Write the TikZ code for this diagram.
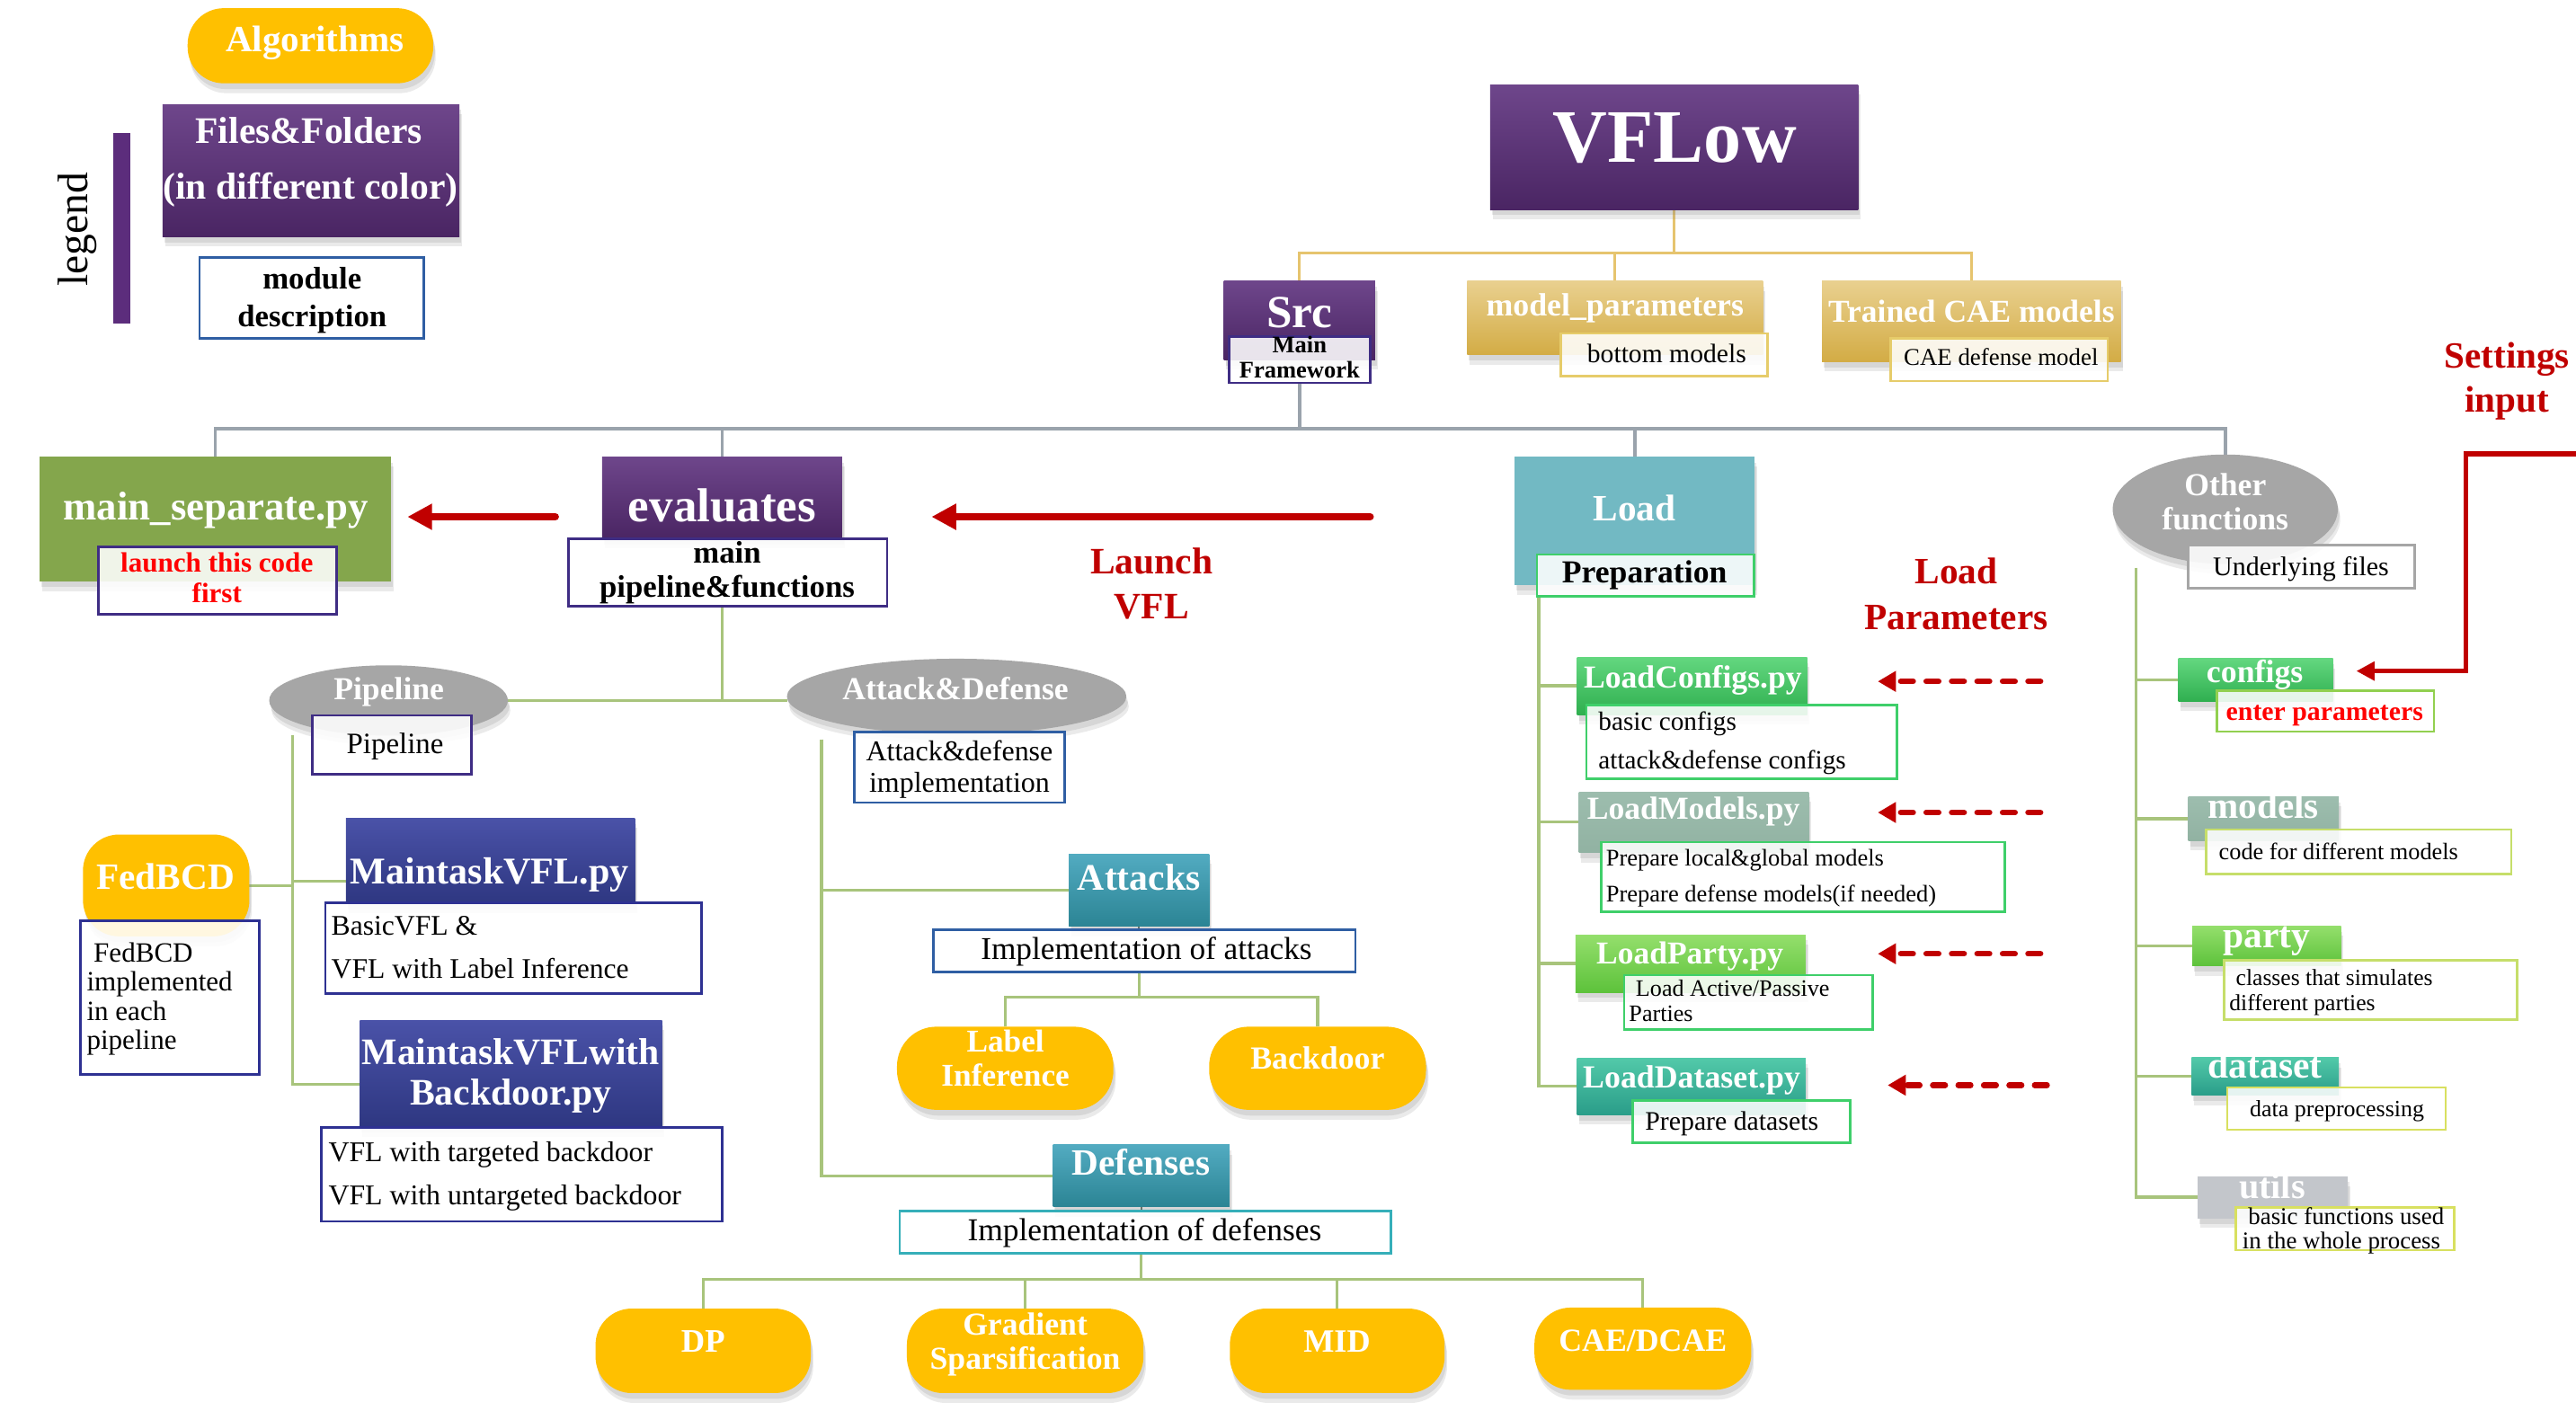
\documentclass[tikz,border=0pt]{standalone}
\usepackage{fontspec}
\setmainfont{Liberation Serif}
\usetikzlibrary{arrows.meta,shapes.geometric,shadows}

\definecolor{purpTop}{HTML}{6E468B}
\definecolor{purpBot}{HTML}{4A2563}
\definecolor{navyTop}{HTML}{4A52A8}
\definecolor{navyBot}{HTML}{2E3781}
\definecolor{tealTop}{HTML}{52ABC1}
\definecolor{tealBot}{HTML}{2B8494}
\definecolor{grnTop}{HTML}{63D77F}
\definecolor{grnBot}{HTML}{2FAF4F}
\definecolor{limeTop}{HTML}{94DF6C}
\definecolor{limeBot}{HTML}{5DC23B}
\definecolor{tgTop}{HTML}{52C9A9}
\definecolor{tgBot}{HTML}{2A9D89}
\definecolor{sageTop}{HTML}{9DBDAE}
\definecolor{sageBot}{HTML}{91B2A2}
\definecolor{tanTop}{HTML}{E9D08F}
\definecolor{tanBot}{HTML}{D3AC45}
\definecolor{sepgreen}{HTML}{84A64C}
\definecolor{loadcyan}{HTML}{72B9C3}
\definecolor{utilgray}{HTML}{C3C6CB}
\definecolor{algoyellow}{HTML}{FFC000}
\definecolor{ellgray}{HTML}{A6A6A6}
\definecolor{legbarcol}{HTML}{5C2D7C}
\definecolor{vfldark}{HTML}{C00000}
\definecolor{vflbright}{HTML}{FF0000}
\definecolor{purpB}{HTML}{3F2D84}
\definecolor{blueB}{HTML}{2F5EA3}
\definecolor{navyB}{HTML}{2E3192}
\definecolor{tealB}{HTML}{36AFB9}
\definecolor{greenB}{HTML}{3FCF6A}
\definecolor{limeB}{HTML}{92D050}
\definecolor{ygB}{HTML}{C6DE6A}
\definecolor{yB}{HTML}{D8E060}
\definecolor{grayB}{HTML}{A6A6A6}
\definecolor{tanB}{HTML}{E6CC6A}
\definecolor{tanLine}{HTML}{E6C46E}
\definecolor{grayLine}{HTML}{9AA3AC}
\definecolor{greenLine}{HTML}{A8C47C}
\definecolor{stubLine}{HTML}{5F6F5F}

\newcommand{\fsz}[1]{\fontsize{#1}{#1}\selectfont}

\pgfdeclarelayer{bg}
\pgfsetlayers{bg,main}

\tikzset{
  every node/.style={inner sep=0pt, outer sep=0pt},
  softshadow/.style={
      drop shadow={opacity=0.16, shadow xshift=1.5pt, shadow yshift=-6pt},
      drop shadow={opacity=0.18, shadow xshift=1pt, shadow yshift=-3.5pt}},
  filebox/.style={rectangle, anchor=north west, softshadow},
  grad/.style 2 args={top color=#1, bottom color=#2},
  pillbox/.style={rectangle, anchor=north west, rounded corners=#1,
      fill=algoyellow, softshadow},
  ellbox/.style={ellipse, fill=ellgray, softshadow},
  descbox/.style={rectangle, anchor=north west, fill=white, fill opacity=0.88,
      line width=1.5pt, draw=#1},
  wlab/.style={anchor=base, text=white, font=\bfseries\fsz{#1}},
  blab/.style={anchor=base, text=black, font=\bfseries\fsz{#1}},
  rlab/.style={anchor=base, text=black, font=\fsz{#1}},
  rlabw/.style={anchor=base west, text=black, font=\fsz{#1}},
  redlab/.style={anchor=base, text=vfldark, font=\bfseries\fsz{#1}},
  tanline/.style={draw=tanLine, line width=1.8pt},
  grayline/.style={draw=grayLine, line width=2pt},
  greenline/.style={draw=greenLine, line width=1.8pt},
  stubline/.style={draw=stubLine, line width=1.2pt},
  launcharrow/.style={draw=vfldark, line width=4.5pt, line cap=round,
      -{Triangle[length=15pt,width=15pt]}},
  dasharrow/.style={draw=vfldark, line width=3.5pt, line cap=round,
      dash pattern=on 7.5pt off 8pt, -{Triangle[length=11pt,width=12pt]}},
  setarrow/.style={draw=vfldark, line width=3pt,
      -{Triangle[length=11pt,width=11pt]}},
}

\begin{document}
\begin{tikzpicture}[x=1pt,y=-1pt]
\useasboundingbox (0,0) rectangle (1568,864);
\begin{pgfonlayer}{bg}
  \fill[white] (0,0) rectangle (1568,864);
\end{pgfonlayer}

% ---------------- legend ----------------
\node[pillbox=22, minimum width=149.5, minimum height=45.7] (algo) at (114.2,5) {};
\node[filebox, grad={purpTop}{purpBot}, minimum width=180.6, minimum height=80.5] (files) at (99,63.5) {};
\node[descbox=blueB, minimum width=136.6, minimum height=49] (moddesc) at (121.4,156.8) {};
\node[rectangle, anchor=north west, fill=legbarcol, minimum width=10.4, minimum height=116] (legbar) at (69,81) {};

% ---------------- top level ----------------
\node[filebox, grad={purpTop}{purpBot}, minimum width=224, minimum height=76] (vflow) at (907,51.5) {};
\node[filebox, grad={purpTop}{purpBot}, minimum width=92, minimum height=48] (src) at (745,171) {};
\node[filebox, grad={tanTop}{tanBot}, minimum width=180, minimum height=45] (mparam) at (893,171) {};
\node[filebox, grad={tanTop}{tanBot}, minimum width=182, minimum height=49] (trained) at (1109,171) {};

% ---------------- second level ----------------
\node[filebox, fill=sepgreen, minimum width=214, minimum height=76] (mainsep) at (24,278) {};
\node[filebox, grad={purpTop}{purpBot}, minimum width=146, minimum height=50] (evaluates) at (366.5,278) {};
\node[filebox, fill=loadcyan, minimum width=146, minimum height=78] (load) at (922,278) {};
\node[ellbox, minimum width=137, minimum height=66.6] (otherf) at (1354.5,310) {};

% ---------------- pipeline branch ----------------
\node[ellbox, minimum width=145.3, minimum height=42.8] (pipeline) at (236.5,426.4) {};
\node[pillbox=22, minimum width=101.3, minimum height=62] (fedbcd) at (50.5,508) {};
\node[filebox, grad={navyTop}{navyBot}, minimum width=175.8, minimum height=52] (mvfl) at (210.6,498) {};
\node[filebox, grad={navyTop}{navyBot}, minimum width=184, minimum height=65] (mtb) at (219,621) {};

% ---------------- attack & defense branch ----------------
\node[ellbox, minimum width=206.6, minimum height=46] (adef) at (582.3,424) {};
\node[filebox, grad={tealTop}{tealBot}, minimum width=85.4, minimum height=44.2] (attacks) at (650.6,519.8) {};
\node[pillbox=24, minimum width=131.7, minimum height=50.6] (labelinf) at (546,625) {};
\node[pillbox=24, minimum width=132, minimum height=50.6] (backdoor) at (736,625) {};
\node[filebox, grad={tealTop}{tealBot}, minimum width=107.4, minimum height=37.6] (defenses) at (641,697) {};
\node[pillbox=22, minimum width=131, minimum height=51.4] (dp) at (362.5,796.6) {};
\node[pillbox=22, minimum width=144, minimum height=51.4] (gs) at (552,796.6) {};
\node[pillbox=22, minimum width=130.7, minimum height=51.4] (mid) at (748.6,796.6) {};
\node[pillbox=22, minimum width=132, minimum height=50] (cae) at (934,796) {};

% ---------------- load branch ----------------
\node[filebox, grad={grnTop}{grnBot}, minimum width=140, minimum height=35] (loadcfg) at (960,400) {};
\node[filebox, grad={sageTop}{sageBot}, minimum width=140, minimum height=37] (loadmod) at (961,482) {};
\node[filebox, grad={limeTop}{limeBot}, minimum width=140, minimum height=35] (loadparty) at (959,569) {};
\node[filebox, grad={tgTop}{tgBot}, minimum width=139, minimum height=34.5] (loadds) at (960,644) {};

% ---------------- other functions branch ----------------
\node[filebox, grad={grnTop}{grnBot}, minimum width=94, minimum height=26] (cfgF) at (1326,401) {};
\node[filebox, grad={sageTop}{sageBot}, minimum width=91.6, minimum height=26.8] (modF) at (1332,485) {};
\node[filebox, grad={limeTop}{limeBot}, minimum width=90.6, minimum height=24.4] (partyF) at (1334.4,563.6) {};
\node[filebox, grad={tgTop}{tgBot}, minimum width=89.6, minimum height=23] (dataF) at (1334,643.8) {};
\node[filebox, fill=utilgray, minimum width=91.4, minimum height=25.6] (utilF) at (1337.6,716) {};

% ---------------- description boxes ----------------
\node[descbox=purpB, minimum width=86, minimum height=28] (mainfw) at (748,205) {};
\node[descbox=tanB, minimum width=126, minimum height=26] (botm) at (950,203) {};
\node[descbox=tanB, minimum width=132, minimum height=26] (caedm) at (1151,206) {};
\node[descbox=purpB, minimum width=145, minimum height=41] (launchdesc) at (60,333) {};
\node[descbox=purpB, minimum width=194, minimum height=41] (evdesc) at (346,328) {};
\node[descbox=greenB, minimum width=132, minimum height=25.5] (prep) at (935.5,337.5) {};
\node[descbox=grayB, minimum width=137.6, minimum height=26] (underl) at (1332,332) {};
\node[descbox=purpB, minimum width=97, minimum height=36] (pipedesc) at (190,435.5) {};
\node[descbox=blueB, minimum width=128, minimum height=43] (adesc) at (520,445.5) {};
\node[descbox=navyB, minimum width=108.8, minimum height=93.5] (fedesc) at (49,560.5) {};
\node[descbox=navyB, minimum width=229, minimum height=55.5] (mvfldesc) at (198,549.5) {};
\node[descbox=navyB, minimum width=243.8, minimum height=57] (mtbdesc) at (195.7,686.5) {};
\node[descbox=blueB, minimum width=256.7, minimum height=25.8] (impatt) at (568.3,566) {};
\node[descbox=tealB, minimum width=298.9, minimum height=25.6] (impdef) at (547.7,737.4) {};
\node[descbox=greenB, minimum width=189, minimum height=45] (cfgdesc) at (965.6,429) {};
\node[descbox=greenB, minimum width=246, minimum height=42.5] (moddesc2) at (974.5,512.6) {};
\node[descbox=greenB, minimum width=151.4, minimum height=33] (partydesc) at (988.6,593.6) {};
\node[descbox=greenB, minimum width=132.4, minimum height=25.6] (dsdesc) at (993.6,670) {};
\node[descbox=limeB, minimum width=132, minimum height=25] (enterp) at (1349.6,420.4) {};
\node[descbox=ygB, minimum width=185.6, minimum height=27] (codedesc) at (1343,505) {};
\node[descbox=ygB, minimum width=178.4, minimum height=36] (partyd) at (1353.6,584.7) {};
\node[descbox=yB, minimum width=133, minimum height=25.7] (datad) at (1355.7,662) {};
\node[descbox=yB, minimum width=133, minimum height=26] (utild) at (1360.7,735) {};

% ---------------- connectors ----------------
\coordinate (tanbus) at (0,154);
\coordinate (graybus) at (0,261);
\coordinate (atbus) at (0,607);
\coordinate (dfbus) at (0,778.6);
\coordinate (yMVFL) at (0,536.4);
\coordinate (yMTB) at (0,660);
\coordinate (pv) at (178,447.6);
\coordinate (av) at (500,450);
\coordinate (lv) at (936.7,363);
\coordinate (ov) at (1300,345.6);

\begin{pgfonlayer}{bg}
  \draw[tanline] (vflow.south) -- (vflow.south |- tanbus);
  \draw[tanline] (src.north) |- (trained.north |- tanbus) -- (trained.north);
  \draw[tanline] (mparam.north) -- (mparam.north |- tanbus);

  \draw[grayline] (mainfw.south) -- (mainfw.south |- graybus);
  \draw[grayline] (mainsep.north) |- (otherf.north |- graybus) -- (otherf.north);
  \draw[grayline] (evaluates.north) -- (evaluates.north |- graybus);
  \draw[grayline] (load.north) -- (load.north |- graybus);

  \draw[greenline] (evaluates.south |- evdesc.south) -- (evaluates.south |- pipeline.east);
  \draw[greenline] (pipeline.east) -- (pipeline.east -| adef.west);

  \draw[greenline] (pv) |- (mvfl.west |- yMVFL);
  \draw[greenline] (pv) |- (mtb.west |- yMTB);
  \draw[greenline] (fedbcd.east) -- (fedbcd.east -| pv);

  \draw[greenline] (av) |- (attacks.west);
  \draw[greenline] (av) |- (defenses.west);

  \draw[stubline] (attacks.south) -- (attacks.south |- impatt.north);
  \draw[greenline] (attacks.south |- impatt.south) -- (attacks.south |- atbus);
  \draw[greenline] (labelinf.north) |- (backdoor.north |- atbus) -- (backdoor.north);

  \draw[stubline] (defenses.south) -- (defenses.south |- impdef.north);
  \draw[greenline] (defenses.south |- impdef.south) -- (defenses.south |- dfbus);
  \draw[greenline] (dp.north) |- (cae.north |- dfbus) -- (cae.north);
  \draw[greenline] (gs.north) -- (gs.north |- dfbus);
  \draw[greenline] (mid.north) -- (mid.north |- dfbus);

  \draw[greenline] (lv) |- (loadds.west);
  \draw[greenline] (lv |- loadcfg.west) -- (loadcfg.west);
  \draw[greenline] (lv |- loadmod.west) -- (loadmod.west);
  \draw[greenline] (lv |- loadparty.west) -- (loadparty.west);

  \draw[greenline] (ov) |- (utilF.west);
  \draw[greenline] (ov |- cfgF.west) -- (cfgF.west);
  \draw[greenline] (ov |- modF.west) -- (modF.west);
  \draw[greenline] (ov |- partyF.west) -- (partyF.west);
  \draw[greenline] (ov |- dataF.west) -- (dataF.west);
\end{pgfonlayer}

% ---------------- red arrows ----------------
\coordinate (yLaunch) at (0,314.6);
\draw[launcharrow, shorten <=28.5pt, shorten >=10pt]
  (evaluates.west |- yLaunch) -- (mainsep.east |- yLaunch);
\draw[launcharrow, shorten <=88pt, shorten >=54.5pt]
  (load.west |- yLaunch) -- (evaluates.east |- yLaunch);

\coordinate (dcS) at (1242,414.8);
\coordinate (dmS) at (1242,494.6);
\coordinate (dpS) at (1242,580.6);
\coordinate (ddS) at (1246,660.6);
\draw[dasharrow, shorten >=43pt] (dcS) -- (loadcfg.east |- dcS);
\draw[dasharrow, shorten >=42pt] (dmS) -- (loadmod.east |- dmS);
\draw[dasharrow, shorten >=44pt] (dpS) -- (loadparty.east |- dpS);
\draw[dasharrow, shorten >=50pt] (ddS) -- (loadds.east |- ddS);

\coordinate (setin) at (1572,276.3);
\coordinate (setbend) at (1501,408.5);
\draw[setarrow, shorten >=14.3pt] (setin) -| (setbend) -- (cfgF.east |- setbend);

% ---------------- texts ----------------
\node[wlab=22.5] (algoT) at (191.7,31.4) {Algorithms};
\node[wlab=22.8] (filesT1) at (188,87.2) {Files\&Folders};
\node[wlab=22.8] (filesT2) at (189,121.3) {(in different color)};
\node[blab=19] (moddescT1) at (190,176) {module};
\node[blab=19] (moddescT2) at (190,198.8) {description};
\node[rotate=90, font=\fsz{26}] (legendT) at (47,139.5) {legend};

\node[wlab=46] (vflowT) at (1019.4,98.8) {VFLow};
\node[wlab=28] (srcT) at (791,199.2) {Src};
\node[blab=14.5] (mainfwT1) at (791,214.8) {Main};
\node[blab=14.5] (mainfwT2) at (791,230.3) {Framework};
\node[wlab=19.6] (mparamT) at (983,192.4) {model\_parameters};
\node[rlab=16.2] (botmT) at (1014.5,220.7) {bottom models};
\node[wlab=19.4] (trainedT) at (1200,196) {Trained CAE models};
\node[rlab=14.7] (caedmT) at (1218,222.5) {CAE defense model};

\node[wlab=24.5] (mainsepT) at (131.5,316.5) {main\_separate.py};
\node[anchor=base, text=vflbright, font=\bfseries\fsz{17}] (launchT1) at (132,348.3) {launch this code};
\node[anchor=base, text=vflbright, font=\bfseries\fsz{17}] (launchT2) at (132,367) {first};
\node[wlab=29] (evalT) at (439.6,317.7) {evaluates};
\node[blab=19] (evdescT1) at (442.6,342.9) {main};
\node[blab=19] (evdescT2) at (442.6,363.3) {pipeline\&functions};
\node[redlab=22.7] (launchvflT1) at (701,349.2) {Launch};
\node[redlab=22.7] (launchvflT2) at (701,376.6) {VFL};

\node[wlab=22.6] (loadT) at (995,317.3) {Load};
\node[blab=19.5] (prepT) at (1001,354.7) {Preparation};
\node[redlab=22.6] (loadparT1) at (1190.8,355.6) {Load};
\node[redlab=22.6] (loadparT2) at (1190.8,383) {Parameters};

\node[wlab=19.5] (otherT1) at (1354.5,301.5) {Other};
\node[wlab=19.5] (otherT2) at (1354.5,322.4) {functions};
\node[rlab=16.4] (underlT) at (1400.6,350.2) {Underlying files};
\node[redlab=22.5] (settingsT1) at (1526,224.3) {Settings};
\node[redlab=22.5] (settingsT2) at (1526,251.1) {input};

\node[wlab=19.5] (pipelineT) at (236.7,425.8) {Pipeline};
\node[rlab=18] (pipedescT) at (240.5,458.7) {Pipeline};
\node[wlab=22.6] (fedbcdT) at (100.8,541.3) {FedBCD};
\node[rlabw=17] (fedescT1) at (57,585.6) {FedBCD};
\node[rlabw=17] (fedescT2) at (52.8,603) {implemented};
\node[rlabw=17] (fedescT3) at (52.8,621.3) {in each};
\node[rlabw=17] (fedescT4) at (52.8,638.6) {pipeline};
\node[wlab=23] (mvflT) at (298,538) {MaintaskVFL.py};
\node[rlabw=17.3] (mvfldescT1) at (201.7,569.2) {BasicVFL \&};
\node[rlabw=17.3] (mvfldescT2) at (201.7,595.3) {VFL with Label Inference};
\node[wlab=22.8] (mtbT1) at (310.9,648.3) {MaintaskVFLwith};
\node[wlab=22.8] (mtbT2) at (310.9,672.4) {Backdoor.py};
\node[rlabw=17.4] (mtbdescT1) at (200,707.1) {VFL with targeted backdoor};
\node[rlabw=17.4] (mtbdescT2) at (200,733.2) {VFL with untargeted backdoor};

\node[wlab=19.5] (adefT) at (581.6,425.8) {Attack\&Defense};
\node[rlab=17.5] (adescT1) at (584,463) {Attack\&defense};
\node[rlab=17.5] (adescT2) at (584,482) {implementation};
\node[wlab=22.8] (attacksT) at (693.3,541.9) {Attacks};
\node[rlab=19.3] (impattT) at (697.8,584) {Implementation of attacks};
\node[wlab=19.3] (labelinfT1) at (612,640.3) {Label};
\node[wlab=19.3] (labelinfT2) at (612,661.3) {Inference};
\node[wlab=19.6] (backdoorT) at (802,651) {Backdoor};
\node[wlab=22.6] (defensesT) at (694.5,715.3) {Defenses};
\node[rlab=19.4] (impdefT) at (696.7,755.2) {Implementation of defenses};
\node[wlab=20] (dpT) at (428,822.9) {DP};
\node[wlab=19.5] (gsT1) at (624,812.5) {Gradient};
\node[wlab=19.5] (gsT2) at (624,833.4) {Sparsification};
\node[wlab=19.8] (midT) at (813.8,822.9) {MID};
\node[wlab=19.6] (caeT) at (1000,822.5) {CAE/DCAE};

\node[wlab=19.5] (loadcfgT) at (1030.4,419) {LoadConfigs.py};
\node[rlabw=16] (cfgdescT1) at (973,444.5) {basic configs};
\node[rlabw=16] (cfgdescT2) at (973,468.3) {attack\&defense configs};
\node[wlab=19.5] (loadmodT) at (1030.8,498.8) {LoadModels.py};
\node[rlabw=14.5] (moddescT3) at (977.6,527) {Prepare local\&global models};
\node[rlabw=14.5] (moddescT4) at (977.6,548.9) {Prepare defense models(if needed)};
\node[wlab=19.4] (loadpartyT) at (1028.6,586.7) {LoadParty.py};
\node[rlabw=14.3] (partydescT1) at (995.7,606.4) {Load Active/Passive};
\node[rlabw=14.3] (partydescT2) at (991.6,621.9) {Parties};
\node[wlab=19.6] (loaddsT) at (1029.7,662.2) {LoadDataset.py};
\node[rlabw=16.3] (dsdescT) at (1001.4,688.1) {Prepare datasets};

\node[wlab=19.6] (cfgFT) at (1372.5,415.4) {configs};
\node[anchor=base west, text=vflbright, font=\bfseries\fsz{16.3}] (enterpT) at (1355,438.5) {enter parameters};
\node[wlab=22.5] (modFT) at (1377.6,498.4) {models};
\node[rlabw=14.4] (codedescT) at (1350.6,523.3) {code for different models};
\node[wlab=22.7] (partyFT) at (1379.7,577) {party};
\node[rlabw=14] (partydT1) at (1361,600) {classes that simulates};
\node[rlabw=14] (partydT2) at (1357,615.4) {different parties};
\node[wlab=22.7] (dataFT) at (1378.8,656.5) {dataset};
\node[rlabw=14.2] (datadT) at (1369.5,679.5) {data preprocessing};
\node[wlab=22] (utilFT) at (1383,729.3) {utils};
\node[rlabw=14.7] (utildT1) at (1368.5,745.5) {basic functions used};
\node[rlabw=14.7] (utildT2) at (1365,760.1) {in the whole process};
\end{tikzpicture}
\end{document}
